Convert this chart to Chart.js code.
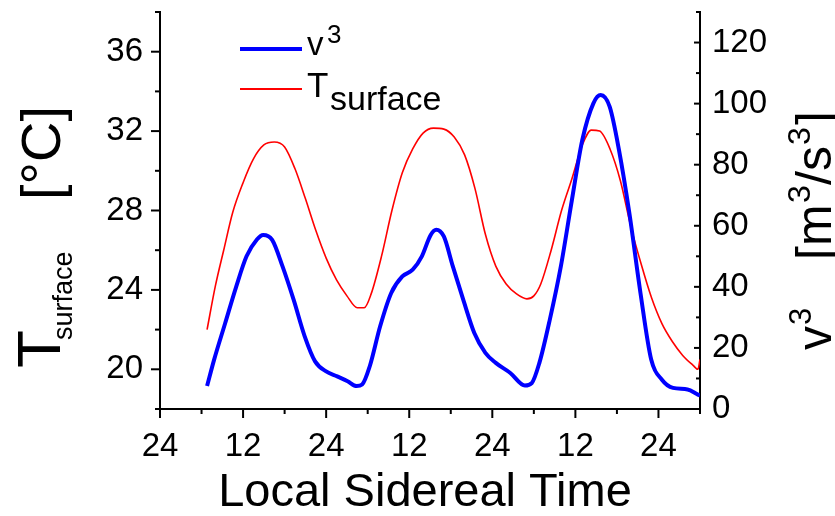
<!DOCTYPE html>
<html>
<head>
<meta charset="utf-8">
<script src="https://cdn.jsdelivr.net/npm/chart.js@4"></script>
<style>
  html, body { margin: 0; padding: 0; background: #fff; }
  #wrap { width: 835px; height: 516px; }
</style>
</head>
<body>
<div id="wrap"><canvas id="c" width="835" height="516"></canvas></div>
<script>
// ---- data ----
const tempHours = [6.8, 8.0, 9.2, 10.5, 12.0, 13.5, 15.0, 16.5, 18.0, 19.5, 21.0, 22.5, 24.0, 25.5, 27.0, 28.5, 29.5, 30.5, 32.0, 33.5, 35.0, 36.5, 38.0, 39.5, 41.0, 42.5, 44.0, 45.5, 47.0, 48.5, 50.0, 51.5, 53.0, 54.0, 55.0, 56.5, 58.0, 59.5, 61.0, 62.3, 63.5, 65.0, 66.5, 68.0, 69.5, 71.0, 72.5, 74.0, 75.5, 77.0, 77.7, 78.0];
const tSurface  = [22.0, 24.2, 26.0, 27.9, 29.4, 30.6, 31.3, 31.45, 31.2, 30.1, 28.6, 27.0, 25.6, 24.5, 23.7, 23.1, 23.1, 23.8, 25.7, 28.0, 29.9, 31.1, 31.9, 32.15, 32.1, 31.7, 30.8, 29.1, 26.8, 25.2, 24.3, 23.8, 23.55, 23.7, 24.3, 26.0, 28.0, 29.6, 31.3, 32.05, 32.0, 31.1, 29.5, 27.2, 25.3, 23.6, 22.3, 21.4, 20.7, 20.2, 20.0, 20.5];

const windHours = [6.8, 7.8, 9.4, 11.0, 12.5, 14.0, 14.9, 16.2, 17.7, 19.3, 20.9, 22.4, 24.0, 25.6, 27.1, 28.4, 29.2, 30.3, 31.8, 33.4, 35.0, 36.5, 37.8, 39.1, 39.9, 41.0, 42.3, 43.8, 45.4, 47.0, 48.5, 50.6, 52.7, 53.7, 54.8, 56.3, 57.9, 59.5, 61.0, 62.6, 63.65, 64.95, 66.3, 67.8, 69.4, 70.95, 72.5, 74.1, 76.2, 77.7, 78.0];
const vCubed    = [7.5, 16, 28, 40, 50, 55.5, 57, 55.4, 46.7, 35.8, 23.8, 15.6, 12.3, 10.7, 9.1, 7.5, 8.0, 14.0, 27.1, 38.0, 43.4, 45.6, 49.9, 57.0, 58.7, 56.5, 46.7, 35.8, 24.9, 18.4, 15.1, 11.8, 7.7, 8.5, 15.1, 29.2, 46.7, 68.5, 88.1, 100.1, 102.8, 99.0, 84.8, 64.1, 38.0, 16.2, 9.6, 6.9, 6.4, 4.7, 4.4];

const xRange = [0, 78];
const tempRange = [18, 38];
const windRange = [0, 130];
const xTitle = 'Local Sidereal Time';

const FONT = '"Liberation Sans", Arial, sans-serif';

function pts(xs, ys) { return xs.map((x, i) => ({ x: x, y: ys[i] })); }

// custom tick marks (major longer than minor), right axis ticks point inward
const tickMarks = {
  id: 'tickMarks',
  afterDraw(chart) {
    const ctx = chart.ctx, a = chart.chartArea;
    ctx.save();
    ctx.strokeStyle = '#000';
    ctx.lineWidth = 2;
    const sx = chart.scales.x, sl = chart.scales.yT, sr = chart.scales.yV;
    sx.ticks.forEach(t => {
      const p = sx.getPixelForValue(t.value);
      const len = t.label !== '' ? 9 : 5;
      ctx.beginPath(); ctx.moveTo(p, a.bottom); ctx.lineTo(p, a.bottom + len); ctx.stroke();
    });
    sl.ticks.forEach(t => {
      const p = sl.getPixelForValue(t.value);
      const len = t.label !== '' ? 9 : 5;
      ctx.beginPath(); ctx.moveTo(a.left - len, p); ctx.lineTo(a.left, p); ctx.stroke();
    });
    sr.ticks.forEach(t => {
      const p = sr.getPixelForValue(t.value);
      const len = t.label !== '' ? 6 : 4;
      ctx.beginPath(); ctx.moveTo(a.right - len, p); ctx.lineTo(a.right, p); ctx.stroke();
    });
    ctx.restore();
  }
};

// rich text (sub/superscripts) for titles and legend
function drawRich(ctx, segs) {
  segs.forEach(s => {
    ctx.font = s.size + 'px ' + FONT;
    ctx.fillText(s.text, s.x, s.y);
  });
}

const titles = {
  id: 'titles',
  afterDraw(chart) {
    const ctx = chart.ctx;
    ctx.save();
    ctx.fillStyle = '#000';
    ctx.textBaseline = 'alphabetic';
    // x title
    ctx.font = '47px ' + FONT;
    ctx.textAlign = 'center';
    ctx.fillText(xTitle, 425, 506);
    ctx.textAlign = 'left';
    // left title (rotated)
    ctx.save();
    ctx.translate(60, 368);
    ctx.rotate(-Math.PI / 2);
    drawRich(ctx, [
      { text: 'T', size: 62, x: 0, y: 0 },
      { text: 'surface', size: 27, x: 28, y: 12 },
      { text: '[°C]', size: 56, x: 168, y: 0 }
    ]);
    ctx.restore();
    // right title (rotated)
    ctx.save();
    ctx.translate(831, 350);
    ctx.rotate(-Math.PI / 2);
    drawRich(ctx, [
      { text: 'v', size: 48, x: 0, y: 0 },
      { text: '3', size: 31, x: 25, y: -20 },
      { text: '[m', size: 50, x: 90, y: 0 },
      { text: '3', size: 32, x: 147, y: -21 },
      { text: '/s', size: 50, x: 165, y: 0 },
      { text: '3', size: 32, x: 205, y: -21 },
      { text: ']', size: 50, x: 225, y: 0 }
    ]);
    ctx.restore();
    // legend
    ctx.lineCap = 'butt';
    ctx.strokeStyle = '#0000ff'; ctx.lineWidth = 4;
    ctx.beginPath(); ctx.moveTo(240, 49); ctx.lineTo(302, 49); ctx.stroke();
    ctx.strokeStyle = '#ff0000'; ctx.lineWidth = 2;
    ctx.beginPath(); ctx.moveTo(240, 89); ctx.lineTo(302, 89); ctx.stroke();
    drawRich(ctx, [
      { text: 'v', size: 33, x: 307, y: 55 },
      { text: '3', size: 26, x: 327, y: 43 },
      { text: 'T', size: 35, x: 307, y: 97 },
      { text: 'surface', size: 34, x: 330, y: 110 }
    ]);
    ctx.restore();
  }
};

const tickFont = { family: FONT, size: 33 };
function noPad(s) { s.paddingTop = 0; s.paddingBottom = 0; s.paddingLeft = 0; s.paddingRight = 0; }

new Chart(document.getElementById('c'), {
  type: 'line',
  data: {
    datasets: [
      {
        label: 'v3',
        data: pts(windHours, vCubed),
        yAxisID: 'yV',
        borderColor: '#0000ff',
        borderWidth: 4,
        pointRadius: 0,
        cubicInterpolationMode: 'monotone',
        fill: false
      },
      {
        label: 'Tsurface',
        data: pts(tempHours, tSurface),
        yAxisID: 'yT',
        borderColor: '#ff0000',
        borderWidth: 1.6,
        pointRadius: 0,
        cubicInterpolationMode: 'monotone',
        fill: false
      }
    ]
  },
  options: {
    responsive: false,
    animation: false,
    layout: { padding: { top: 12, left: 0, right: 0, bottom: 0 } },
    plugins: { legend: { display: false }, tooltip: { enabled: false } },
    scales: {
      x: {
        type: 'linear',
        min: xRange[0], max: xRange[1],
        grid: { display: false, drawTicks: false },
        border: { display: true, color: '#000', width: 2 },
        ticks: {
          stepSize: 6, autoSkip: false, maxRotation: 0, padding: 18,
          color: '#000', font: tickFont,
          callback: v => (v % 12 === 0 ? (v % 24 === 0 ? '24' : '12') : '')
        },
        afterFit: s => { s.height = 107; noPad(s); }
      },
      yT: {
        position: 'left',
        min: tempRange[0], max: tempRange[1],
        grid: { display: false, drawTicks: false },
        border: { display: true, color: '#000', width: 2 },
        ticks: {
          stepSize: 2, autoSkip: false, padding: 17,
          color: '#000', font: tickFont,
          callback: v => ((v - 20) % 4 === 0 && v >= 20 && v <= 36 ? String(v) : '')
        },
        afterFit: s => { s.width = 160; noPad(s); }
      },
      yV: {
        position: 'right',
        min: windRange[0], max: windRange[1],
        grid: { display: false, drawTicks: false },
        border: { display: true, color: '#000', width: 2 },
        ticks: {
          stepSize: 10, autoSkip: false, padding: 12,
          color: '#000', font: tickFont,
          callback: v => (v % 20 === 0 && v <= 120 ? String(v) : '')
        },
        afterFit: s => { s.width = 135; noPad(s); }
      }
    }
  },
  plugins: [tickMarks, titles]
});
</script>
</body>
</html>
